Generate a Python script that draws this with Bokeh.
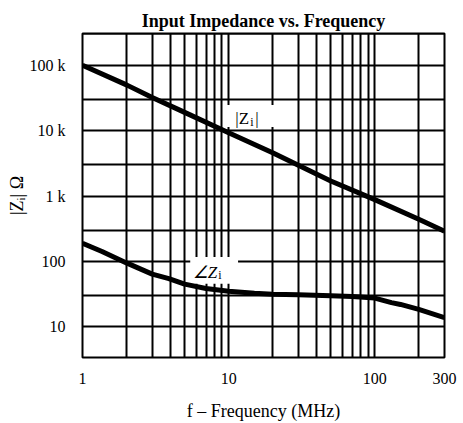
from bokeh.plotting import figure
from bokeh.models import FixedTicker, Label, Range1d, BoxAnnotation
from bokeh.embed import file_html
from bokeh.resources import INLINE

# |Zi| magnitude curve
freq_mag = [1, 2, 3, 5, 10, 20, 30, 50, 100, 200, 300]
z_mag = [100000, 50000, 32000, 19000, 9300, 4600, 2950, 1700, 880, 440, 290]

# angle Zi curve
freq_ang = [1, 1.36, 2, 2.55, 3, 3.9, 5, 7, 10, 15, 20, 30, 50, 70, 100, 130, 150, 200, 300]
z_ang = [190, 142, 95, 75, 64, 54.7, 45, 38.5, 35, 32.5, 31.5, 31, 30, 29, 27.5, 23.5, 22, 18.5, 13.8]

x_ticks = [1, 10, 100, 300]
x_tick_labels = ["1", "10", "100", "300"]
y_ticks = [10, 100, 1000, 10000, 100000]
y_tick_labels = ["10", "100", "1 k", "10 k", "100 k"]
x_grid = [1, 2, 3, 4, 5, 6, 7, 8, 9, 10, 20, 30, 40, 50, 60, 70, 80, 90, 100, 200, 300]
y_grid = [10, 30, 100, 300, 1000, 3000, 10000, 30000, 100000, 300000]

FONT = "Liberation Serif"

p = figure(width=463, height=423, x_axis_type="log", y_axis_type="log",
           x_range=Range1d(1, 300), y_range=Range1d(3.4, 305000),
           output_backend="svg", toolbar_location=None,
           min_border_left=82, min_border_right=19, min_border_top=33, min_border_bottom=64,
           title="Input Impedance vs. Frequency")

p.title.align = "center"
p.title.text_font = FONT
p.title.text_font_style = "bold"
p.title.text_font_size = "18px"
p.title.text_color = "black"
p.title.standoff = 5

p.outline_line_color = "black"
p.outline_line_width = 2
p.background_fill_color = "white"
p.border_fill_color = "white"

for g, t in ((p.xgrid[0], x_grid), (p.ygrid[0], y_grid)):
    g.ticker = FixedTicker(ticks=t)
    g.grid_line_color = "black"
    g.grid_line_width = 2
    g.grid_line_alpha = 1.0

p.xaxis.ticker = FixedTicker(ticks=x_ticks)
p.yaxis.ticker = FixedTicker(ticks=y_ticks)
p.xaxis.major_label_overrides = {v: s for v, s in zip(x_ticks, x_tick_labels)}
p.yaxis.major_label_overrides = {v: s for v, s in zip(y_ticks, y_tick_labels)}

for ax in (p.xaxis[0], p.yaxis[0]):
    ax.axis_line_color = None
    ax.major_tick_line_color = None
    ax.minor_tick_line_color = None
    ax.major_label_text_font = FONT
    ax.major_label_text_font_size = "16px"
    ax.major_label_text_color = "black"
    ax.axis_label_text_font = FONT
    ax.axis_label_text_font_size = "18px"
    ax.axis_label_text_font_style = "normal"
    ax.axis_label_text_color = "black"

p.xaxis.axis_label = "f \u2013 Frequency (MHz)"
p.yaxis.axis_label = "|Z\u1d62| \u03a9"
p.xaxis.major_label_standoff = 9
p.xaxis.axis_label_standoff = 14
p.yaxis.major_label_standoff = 11
p.yaxis.axis_label_standoff = 0

# masks behind labels (hide grid lines)
p.add_layout(BoxAnnotation(left=9.63, right=20.8, bottom=11400, top=24700,
                           fill_color="white", fill_alpha=1.0, line_color=None, level="underlay"))
p.add_layout(BoxAnnotation(left=5.46, right=11.6, bottom=45.4, top=117,
                           fill_color="white", fill_alpha=1.0, line_color=None, level="underlay"))

p.line(freq_mag, z_mag, line_color="black", line_width=5)
p.line(freq_ang, z_ang, line_color="black", line_width=5, line_join="round")


def sub_label(x, y, main, after, style="normal", dx_sub=1):
    common = dict(x=x, y=y, text_font=FONT, text_baseline="alphabetic", text_color="black")
    p.add_layout(Label(text=main, text_align="right", text_font_size="17px",
                       text_font_style=style, x_offset=dx_sub, **common))
    p.add_layout(Label(text="i", text_align="left", text_font_size="12px",
                       x_offset=dx_sub + 1, y_offset=-3, **common))
    if after:
        p.add_layout(Label(text=after, text_align="left", text_font_size="17px",
                           x_offset=dx_sub + 6, **common))


sub_label(13.6, 15200, "|Z", "|")
sub_label(7.85, 68.6, "\u2220Z", "", style="italic", dx_sub=4)

open("out.html", "w").write(file_html(p, INLINE))
